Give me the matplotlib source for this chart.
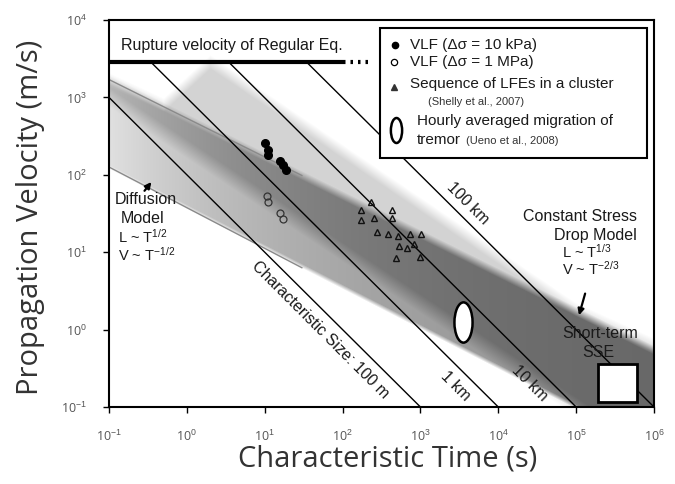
import numpy as np
import matplotlib

matplotlib.use("Agg")
import matplotlib.pyplot as plt
from matplotlib.patches import Rectangle
from matplotlib.path import Path
from matplotlib.transforms import Affine2D

plt.rcParams["font.family"] = ["Liberation Sans", "DejaVu Sans"]
plt.rcParams["mathtext.fontset"] = "custom"
plt.rcParams["mathtext.rm"] = "Liberation Sans"

# --- data -----------------------------------------------------------------
VLF_10KPA_T = [10.2, 11.0, 11.0, 15.5, 17.4, 19.0]
VLF_10KPA_V = [257, 209, 178, 151, 132, 115]
VLF_1MPA_T = [10.7, 11.0, 15.5, 17.0]
VLF_1MPA_V = [54, 44, 32, 27]
LFE_T = [234, 174, 257, 174, 437, 427, 275, 380, 513, 724, 1023, 537, 676, 490, 832, 977]
LFE_V = [45, 35, 28, 26, 35, 28, 18, 17, 16, 17, 17, 12, 11.5, 8.5, 12.6, 8.7]
TREMOR_T = [3500]
TREMOR_V = [1.26]
SSE_T = [1.9e5, 6.0e5]
SSE_V = [0.115, 0.355]

RUPTURE_T = [0.1, 100]
RUPTURE_DOTS_T = [100, 210]
RUPTURE_V = [2900, 2900]

# characteristic size lines (L = V T), end points
SIZE_LABELS = ["Characteristic Size: 100 m", "1 km", "10 km", "100 km"]
SIZE_T0 = [0.1, 0.34, 3.4, 34]
SIZE_V0 = [1000, 2900, 2900, 2900]
SIZE_T1 = [1e3, 1e4, 1e5, 1e6]
SIZE_V1 = [0.1, 0.1, 0.1, 0.1]

# model bands, edge vertices
STRESS_UPPER_T = [0.1, 0.5, 2.0, 1e5, 1e6]
STRESS_UPPER_V = [1700, 800, 2900, 1.8, 0.63]
STRESS_LOWER_T = [0.1, 1e6]
STRESS_LOWER_V = [1000, 0.0215]
DIFF_UPPER_T = [0.1, 1e6]
DIFF_UPPER_V = [1700, 0.54]
DIFF_LOWER_T = [0.1, 1e5, 1e6]
DIFF_LOWER_V = [126, 0.1, 0.03]
# visible grey edges of the diffusion band at short durations
DIFF_EDGE_T = [0.1, 30]
DIFF_EDGE_UPPER_V = [1700, 98]
DIFF_EDGE_LOWER_V = [126, 6.3]

XTICKS = [1e-1, 1e0, 1e1, 1e2, 1e3, 1e4, 1e5, 1e6]
XTICKLABELS = ["10$^{-1}$", "10$^{0}$", "10$^{1}$", "10$^{2}$", "10$^{3}$",
               "10$^{4}$", "10$^{5}$", "10$^{6}$"]
YTICKS = [1e-1, 1e0, 1e1, 1e2, 1e3, 1e4]
YTICKLABELS = ["10$^{-1}$", "10$^{0}$", "10$^{1}$", "10$^{2}$", "10$^{3}$", "10$^{4}$"]

RECT = [109 / 675, 77 / 484, 545 / 675, 387 / 484]


def _edge(t, ts, vs):
    return np.interp(t, np.log10(ts), np.log10(vs))


def _between(v, lo, hi, w_lo, w_hi):
    return np.clip((hi - v) / w_hi + 0.5, 0, 1) * np.clip((v - lo) / w_lo + 0.5, 0, 1)


def shade(fig):
    """Grey model bands, drawn on a linear axes in log10 units under the main axes."""
    # one sample per output pixel of the axes area
    t = np.linspace(-1, 6, 545)
    v = np.linspace(-1, 4, 387)
    tt, vv = np.meshgrid(t, v)
    stress = _between(vv, _edge(tt, STRESS_LOWER_T, STRESS_LOWER_V),
                      _edge(tt, STRESS_UPPER_T, STRESS_UPPER_V), 0.25, 0.18)
    diff = _between(vv, _edge(tt, DIFF_LOWER_T, DIFF_LOWER_V),
                    _edge(tt, DIFF_UPPER_T, DIFF_UPPER_V), 0.06, 0.12)
    # diffusion band darkens smoothly towards long durations (no kinks -> no banding)
    depth = 0.12 + 0.32 * (1 - np.exp(-(tt + 1) / 2.5))
    dark = np.clip(0.17 * stress + depth * diff, 0, 0.62)
    grey = np.repeat((1 - dark)[:, :, None], 3, axis=2)
    bg = fig.add_axes(RECT, zorder=0)
    bg.imshow(grey, extent=(-1, 6, -1, 4), origin="lower", aspect="auto",
              interpolation="nearest")
    bg.set_xlim(-1, 6)
    bg.set_ylim(-1, 4)
    bg.axis("off")


def main():
    fig = plt.figure(figsize=(6.75, 4.84), dpi=100)
    shade(fig)
    ax = fig.add_axes(RECT, zorder=1)
    ax.set_facecolor("none")
    ax.set_xscale("log")
    ax.set_yscale("log")

    ax.plot(DIFF_EDGE_T, DIFF_EDGE_UPPER_V, color="#8a8a8a", lw=1, zorder=1)
    ax.plot(DIFF_EDGE_T, DIFF_EDGE_LOWER_V, color="#8a8a8a", lw=1, zorder=1)

    for t0, v0, t1, v1 in zip(SIZE_T0, SIZE_V0, SIZE_T1, SIZE_V1):
        ax.plot([t0, t1], [v0, v1], color="black", lw=1, zorder=2)

    ax.plot(RUPTURE_T, RUPTURE_V, color="black", lw=3, solid_capstyle="butt", zorder=3)
    ax.plot(RUPTURE_DOTS_T, RUPTURE_V, color="black", lw=3, ls=(0, (0.6, 1.2)), zorder=3)

    ax.plot(VLF_10KPA_T, VLF_10KPA_V, "o", color="black", ms=5.5, zorder=3)
    ax.plot(VLF_1MPA_T, VLF_1MPA_V, "o", mfc="none", mec="#333333", ms=5, mew=0.9, zorder=3)
    ax.plot(LFE_T, LFE_V, "^", mfc="none", mec="#111111", ms=5, mew=1.0, zorder=3)

    ellipse = Path.unit_circle().transformed(Affine2D().scale(0.45, 1.0))
    ax.plot(TREMOR_T, TREMOR_V, marker=ellipse, ls="none", ms=29, mfc="white",
            mec="black", mew=1.8, zorder=4)
    ax.add_patch(Rectangle((SSE_T[0], SSE_V[0]), SSE_T[1] - SSE_T[0], SSE_V[1] - SSE_V[0],
                           facecolor="white", edgecolor="black", lw=2, zorder=4))

    # annotations
    tk = dict(transform=ax.transAxes, fontsize=11.5, color="#1a1a1a", zorder=4)
    small = dict(transform=ax.transAxes, fontsize=10.5, color="#1a1a1a", zorder=4)
    ax.text(0.226, 0.935, "Rupture velocity of Regular Eq.", ha="center", va="center", **tk)
    ax.text(0.068, 0.535, "Diffusion", ha="center", va="center", **tk)
    ax.text(0.062, 0.488, "Model", ha="center", va="center", **tk)
    ax.text(0.017, 0.439, r"L ~ $\mathregular{T^{1/2}}$", ha="left", va="center", **small)
    ax.text(0.017, 0.393, r"V ~ $\mathregular{T^{-1/2}}$", ha="left", va="center", **small)
    ax.text(0.969, 0.491, "Constant Stress", ha="right", va="center", **tk)
    ax.text(0.969, 0.442, "Drop Model", ha="right", va="center", **tk)
    ax.text(0.831, 0.402, r"L ~ $\mathregular{T^{1/3}}$", ha="left", va="center", **small)
    ax.text(0.831, 0.356, r"V ~ $\mathregular{T^{-2/3}}$", ha="left", va="center", **small)
    ax.text(0.901, 0.191, "Short-term", ha="center", va="center", **tk)
    ax.text(0.897, 0.140, "SSE", ha="center", va="center", **tk)

    size_pos = [(0.387, 0.199), (0.635, 0.054), (0.772, 0.062), (0.659, 0.525)]
    for label, (x, y) in zip(SIZE_LABELS, size_pos):
        ax.text(x, y, label, ha="center", va="center", rotation=-45,
                rotation_mode="anchor", **tk)

    arrow = dict(arrowstyle="-|>", color="black", lw=1.6, mutation_scale=9)
    ax.annotate("", xy=(0.081, 0.587), xytext=(0.062, 0.553),
                xycoords="axes fraction", arrowprops=arrow, zorder=4)
    ax.annotate("", xy=(0.861, 0.230), xytext=(0.875, 0.300),
                xycoords="axes fraction", arrowprops=arrow, zorder=4)

    # legend box drawn by hand (mixed font sizes)
    ax.add_patch(Rectangle((0.497, 0.643), 0.490, 0.336, transform=ax.transAxes,
                           facecolor="white", edgecolor="black", lw=1.5, zorder=5))
    lk = dict(transform=ax.transAxes, fontsize=11, color="#1a1a1a", va="center", zorder=6)
    ax.plot([0.525], [0.935], "o", color="black", ms=4.5, transform=ax.transAxes, zorder=6)
    ax.text(0.552, 0.935, "VLF (Δσ = 10 kPa)", **lk)
    ax.plot([0.523], [0.891], "o", mfc="none", mec="black", ms=4.5, mew=0.9,
            transform=ax.transAxes, zorder=6)
    ax.text(0.552, 0.891, "VLF (Δσ = 1 MPa)", **lk)
    ax.plot([0.523], [0.827], "^", color="#333333", ms=4, transform=ax.transAxes, zorder=6)
    ax.text(0.552, 0.835, "Sequence of LFEs in a cluster", **lk)
    ax.text(0.585, 0.788, "(Shelly et al., 2007)", transform=ax.transAxes, fontsize=8,
            color="#333333", va="center", zorder=6)
    ax.plot([0.527], [0.716], marker=ellipse, ms=18, mfc="white", mec="black", mew=1.8,
            transform=ax.transAxes, zorder=6)
    ax.text(0.565, 0.739, "Hourly averaged migration of", **lk)
    ax.text(0.565, 0.690, "tremor", **lk)
    ax.text(0.655, 0.688, "(Ueno et al., 2008)", transform=ax.transAxes, fontsize=8,
            color="#333333", va="center", zorder=6)

    ax.set_xlim(0.1, 1e6)
    ax.set_ylim(0.1, 1e4)
    ax.set_xticks(XTICKS)
    ax.set_xticklabels(XTICKLABELS)
    ax.set_yticks(YTICKS)
    ax.set_yticklabels(YTICKLABELS)
    ax.minorticks_off()
    ax.tick_params(direction="out", length=4, width=1, pad=12, labelsize=9,
                   labelcolor="#555555", labelfontfamily="Open Sans")
    for sp in ax.spines.values():
        sp.set_linewidth(1.5)

    ax.set_xlabel("Characteristic Time (s)", fontsize=21, family="Open Sans", color="#333333")
    ax.set_ylabel("Propagation Velocity (m/s)", fontsize=21, family="Open Sans", color="#333333")
    ax.xaxis.set_label_coords(0.512, -0.098)
    ax.yaxis.set_label_coords(-0.117, 0.49)

    fig.savefig("out.png", dpi=100)


if __name__ == "__main__":
    main()
